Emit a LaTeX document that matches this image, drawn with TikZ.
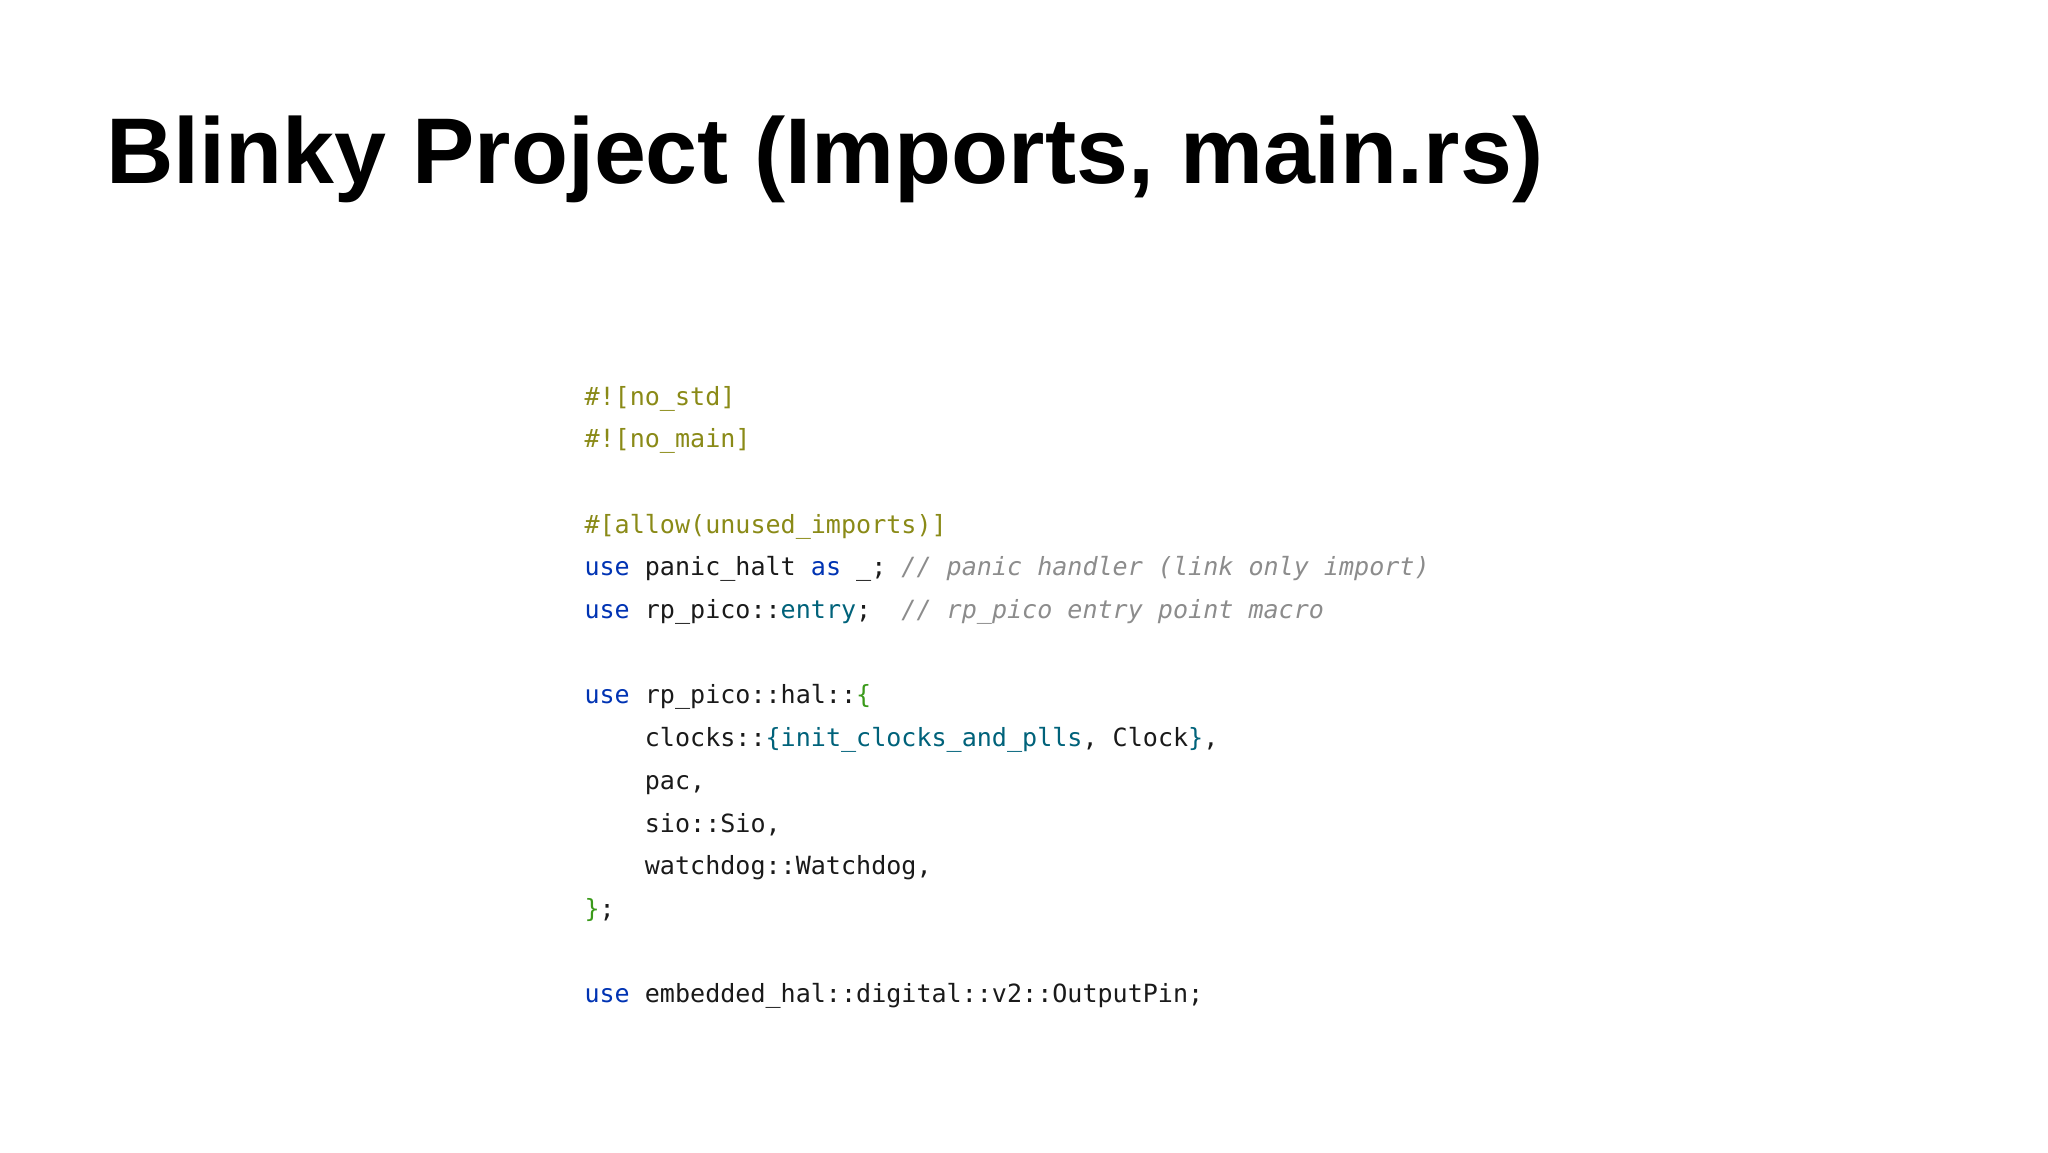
\documentclass[tikz,border=0pt]{standalone}
\usepackage{fontspec}
\setmainfont{Liberation Sans}
\setmonofont{DejaVu Sans Mono}
\definecolor{attr}{HTML}{8A8A17}
\definecolor{kw}{HTML}{0033B3}
\definecolor{fn}{HTML}{00627A}
\definecolor{br}{HTML}{3A9A1A}
\definecolor{cm}{HTML}{8C8C8C}
\definecolor{tx}{HTML}{1A1A1A}
\newcommand{\K}[1]{\textcolor{kw}{#1}}
\newcommand{\A}[1]{\textcolor{attr}{#1}}
\newcommand{\F}[1]{\textcolor{fn}{#1}}
\newcommand{\B}[1]{\textcolor{br}{#1}}
\newcommand{\C}[1]{\textcolor{cm}{\itshape #1}}
\begin{document}
\begin{tikzpicture}[x=0.375pt,y=-0.375pt,
  code/.style={anchor=base west,inner sep=0pt,font=\ttfamily\fontsize{9.4pt}{11pt}\selectfont,text=tx}]
\useasboundingbox (0,0) rectangle (2048,1152);
\node[anchor=base west,inner sep=0pt,font=\bfseries\fontsize{35pt}{40pt}\selectfont] (title) at (106,183) {Blinky Project (Imports, main.rs)};
\def\dy{42.7}
\node[code] (l1) at (584,405) {\A{\#![no\_std]}};
\node[code] (l2) at (584,405+\dy) {\A{\#![no\_main]}};
\node[code] (l4) at (584,405+3*\dy) {\A{\#[allow(unused\_imports)]}};
\node[code] (l5) at (584,405+4*\dy) {\K{use} panic\_halt \K{as} \_; \C{// panic handler (link only import)}};
\node[code] (l6) at (584,405+5*\dy) {\K{use} rp\_pico::\F{entry};\ \ \C{// rp\_pico entry point macro}};
\node[code] (l8) at (584,405+7*\dy) {\K{use} rp\_pico::hal::\B{\{}};
\node[code] (l9) at (584,405+8*\dy) {\ \ \ \ clocks::\F{\{init\_clocks\_and\_plls}, Clock\F{\}},};
\node[code] (l10) at (584,405+9*\dy) {\ \ \ \ pac,};
\node[code] (l11) at (584,405+10*\dy) {\ \ \ \ sio::Sio,};
\node[code] (l12) at (584,405+11*\dy) {\ \ \ \ watchdog::Watchdog,};
\node[code] (l13) at (584,405+12*\dy) {\B{\}};};
\node[code] (l15) at (584,405+14*\dy) {\K{use} embedded\_hal::digital::v2::OutputPin;};
\end{tikzpicture}
\end{document}
